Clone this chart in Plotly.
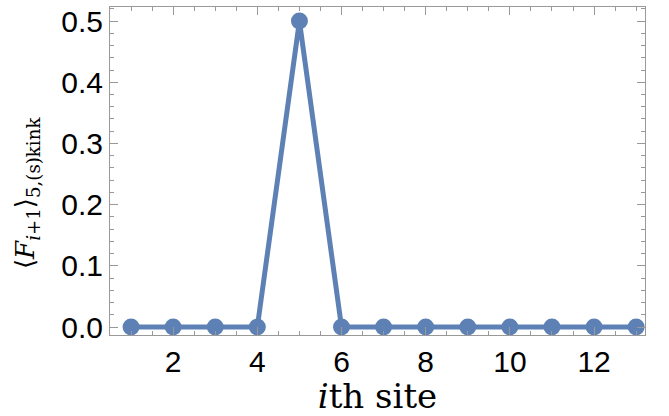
import plotly.graph_objects as go

sites = list(range(1, 14))
values = [0, 0, 0, 0, 0.5, 0, 0, 0, 0, 0, 0, 0, 0]
x_ticks = [2, 4, 6, 8, 10, 12]
y_ticks = [0.0, 0.1, 0.2, 0.3, 0.4, 0.5]
y_ticklabels = ["0.0", "0.1", "0.2", "0.3", "0.4", "0.5"]

color = "#5E81B5"
frame = "#999999"
serif = "DejaVu Serif"

fig = go.Figure()
fig.add_trace(go.Scatter(
    x=sites, y=values, mode="lines+markers",
    line=dict(color=color, width=5),
    marker=dict(color=color, size=17),
    cliponaxis=False,
))

fig.update_layout(
    width=669, height=416,
    margin=dict(l=110, r=24, t=5, b=81),
    plot_bgcolor="white", paper_bgcolor="white",
    showlegend=False,
    font=dict(family="Liberation Sans, Arial", size=30, color="black"),
)
fig.update_xaxes(
    range=[0.5, 13.21],
    tickvals=x_ticks, ticktext=[str(v) for v in x_ticks],
    ticks="inside", ticklen=8, tickcolor=frame, tickwidth=1,
    minor=dict(dtick=0.5, tick0=0, ticks="inside", ticklen=4, tickcolor=frame),
    showline=True, linecolor=frame, linewidth=1, mirror="ticks",
    showgrid=False, zeroline=False,
    tickfont=dict(size=30),
    title=dict(text="<i>i</i>th site", font=dict(family=serif, size=34), standoff=0),
)
fig.update_yaxes(
    range=[-0.013, 0.523],
    tickvals=y_ticks, ticktext=y_ticklabels,
    ticks="inside", ticklen=8, tickcolor=frame, tickwidth=1,
    minor=dict(dtick=0.02, tick0=0, ticks="inside", ticklen=4, tickcolor=frame),
    showline=True, linecolor=frame, linewidth=1, mirror="ticks",
    showgrid=False, zeroline=False,
    tickfont=dict(size=30),
)
fig.add_annotation(
    text="⟨<i>F</i><sub><i>i</i>+1</sub>⟩<sub>5,(s)kink</sub>",
    xref="paper", yref="paper", x=-0.155, y=0.433,
    xanchor="center", yanchor="middle", textangle=-90, showarrow=False,
    font=dict(family=serif, size=26, color="black"),
)

fig.write_html("out.html")
